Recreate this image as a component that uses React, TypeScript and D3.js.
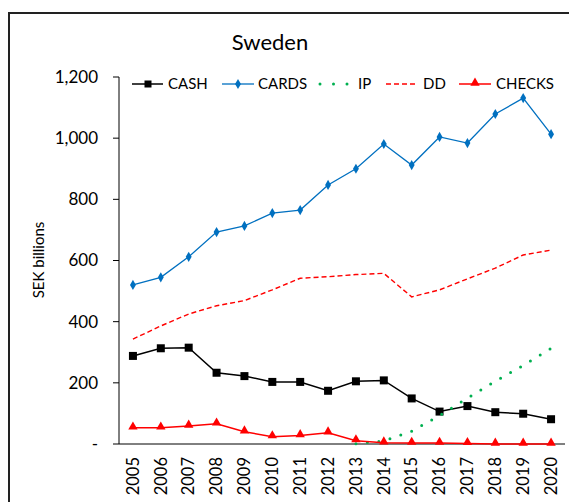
import * as React from "react";
import * as d3 from "d3";

const years = ["2005", "2006", "2007", "2008", "2009", "2010", "2011", "2012", "2013", "2014", "2015", "2016", "2017", "2018", "2019", "2020"];
const cash = [288, 313, 315, 233, 222, 203, 203, 174, 205, 208, 149, 106, 124, 104, 99, 81];
const cards = [520, 545, 612, 693, 713, 755, 765, 847, 900, 981, 912, 1004, 984, 1079, 1131, 1013];
const ipYears = ["2013", "2014", "2015", "2016", "2017", "2018", "2019", "2020"];
const ip = [1, 10, 42, 93, 150, 205, 257, 313];
const dd = [343, 386, 425, 452, 469, 504, 542, 547, 554, 558, 481, 504, 540, 575, 618, 634];
const checks = [53, 53, 59, 66, 40, 24, 28, 37, 11, 4, 3, 3, 2, 0, 0, 0];
const yTicks = [0, 200, 400, 600, 800, 1000, 1200];

const FONT = "Lato, 'Open Sans', sans-serif";

const App: React.FunctionComponent = () => {
  const w = 569;
  const h = 502;
  const left = 119;
  const right = 565;
  const top = 77;
  const bottom = 444;

  const x = d3.scaleBand().domain(years).range([left, right]);
  const cx = (yr: string) => (x(yr) as number) + x.bandwidth() / 2;
  const y = d3.scaleLinear().domain([0, 1200]).range([bottom, top]);
  const fmt = d3.format(",");

  const line = d3
    .line<[string, number]>()
    .x((d) => cx(d[0]))
    .y((d) => y(d[1]));

  const pairs = (vals: number[], ys = years) => ys.map((yr, i) => [yr, vals[i]] as [string, number]);

  const tri = d3.symbol().type(d3.symbolTriangle).size(38)();
  const dia = d3.symbol().type(d3.symbolDiamond).size(30)();

  return (
    <svg width={w} height={h} style={{ position: "absolute", left: 0, top: 0 }} fontFamily={FONT}>
      <rect x={0} y={0} width={w} height={h} fill="#fff" />
      <rect x={9} y={13} width={700} height={700} fill="none" stroke="#222" strokeWidth={2} />

      <text x={270} y={50} textAnchor="middle" fontSize={22} fill="#000">
        Sweden
      </text>

      {/* y axis */}
      <line x1={left} x2={left} y1={top} y2={bottom} stroke="#000" strokeWidth={1} />
      {yTicks.map((t) => (
        <g key={t}>
          <line x1={left - 6} x2={left} y1={y(t)} y2={y(t)} stroke="#000" />
          <text x={98} y={y(t)} dy="0.35em" textAnchor="end" fontSize={17} fill="#000">
            {t === 0 ? "-" : fmt(t)}
          </text>
        </g>
      ))}
      <text transform={`translate(44,260) rotate(-90)`} textAnchor="middle" fontSize={15} fill="#000">
        SEK billions
      </text>

      {/* x axis */}
      <line x1={left} x2={right} y1={bottom} y2={bottom} stroke="#000" strokeWidth={1} />
      {years.map((yr) => (
        <text
          key={yr}
          transform={`translate(${cx(yr)},457) rotate(-90)`}
          dy="0.35em"
          textAnchor="end"
          fontSize={16.5}
          fill="#000"
        >
          {yr}
        </text>
      ))}

      {/* CASH */}
      <path d={line(pairs(cash)) as string} fill="none" stroke="#000" strokeWidth={1.5} />
      {cash.map((v, i) => (
        <rect key={i} x={cx(years[i]) - 4} y={y(v) - 4} width={8} height={8} fill="#000" />
      ))}

      {/* CARDS */}
      <path d={line(pairs(cards)) as string} fill="none" stroke="#0070C0" strokeWidth={1.3} />
      {cards.map((v, i) => (
        <path key={i} d={dia as string} transform={`translate(${cx(years[i])},${y(v)})`} fill="#0070C0" />
      ))}

      {/* IP */}
      <path
        d={line(pairs(ip, ipYears)) as string}
        fill="none"
        stroke="#00B050"
        strokeWidth={3}
        strokeLinecap="round"
        strokeDasharray="0 11.5"
      />

      {/* DD */}
      <path d={line(pairs(dd)) as string} fill="none" stroke="#FF0000" strokeWidth={1.4} strokeDasharray="5 3" />

      {/* CHECKS */}
      <path d={line(pairs(checks)) as string} fill="none" stroke="#FF0000" strokeWidth={1.5} />
      {checks.map((v, i) => (
        <path key={i} d={tri as string} transform={`translate(${cx(years[i])},${y(v) - 1})`} fill="#FF0000" />
      ))}

      {/* legend */}
      <g fontSize={15} fill="#000">
        <line x1={132} x2={163} y1={84} y2={84} stroke="#000" strokeWidth={1.5} />
        <rect x={144.5} y={80.5} width={7} height={7} fill="#000" />
        <text x={168} y={84} dy="0.35em">CASH</text>

        <line x1={222} x2={254} y1={84} y2={84} stroke="#0070C0" strokeWidth={1.3} />
        <path d={dia as string} transform="translate(238,84)" fill="#0070C0" />
        <text x={258} y={84} dy="0.35em">CARDS</text>

        <line x1={320} x2={348} y1={84} y2={84} stroke="#00B050" strokeWidth={3} strokeLinecap="round" strokeDasharray="0 13.5" />
        <text x={358} y={84} dy="0.35em">IP</text>

        <line x1={386} x2={418} y1={84} y2={84} stroke="#FF0000" strokeWidth={1.4} strokeDasharray="5 3" />
        <text x={423} y={84} dy="0.35em">DD</text>

        <line x1={459} x2={491} y1={84} y2={84} stroke="#FF0000" strokeWidth={1.5} />
        <path d={tri as string} transform="translate(475,83)" fill="#FF0000" />
        <text x={496} y={84} dy="0.35em">CHECKS</text>
      </g>
    </svg>
  );
};

export default App;
